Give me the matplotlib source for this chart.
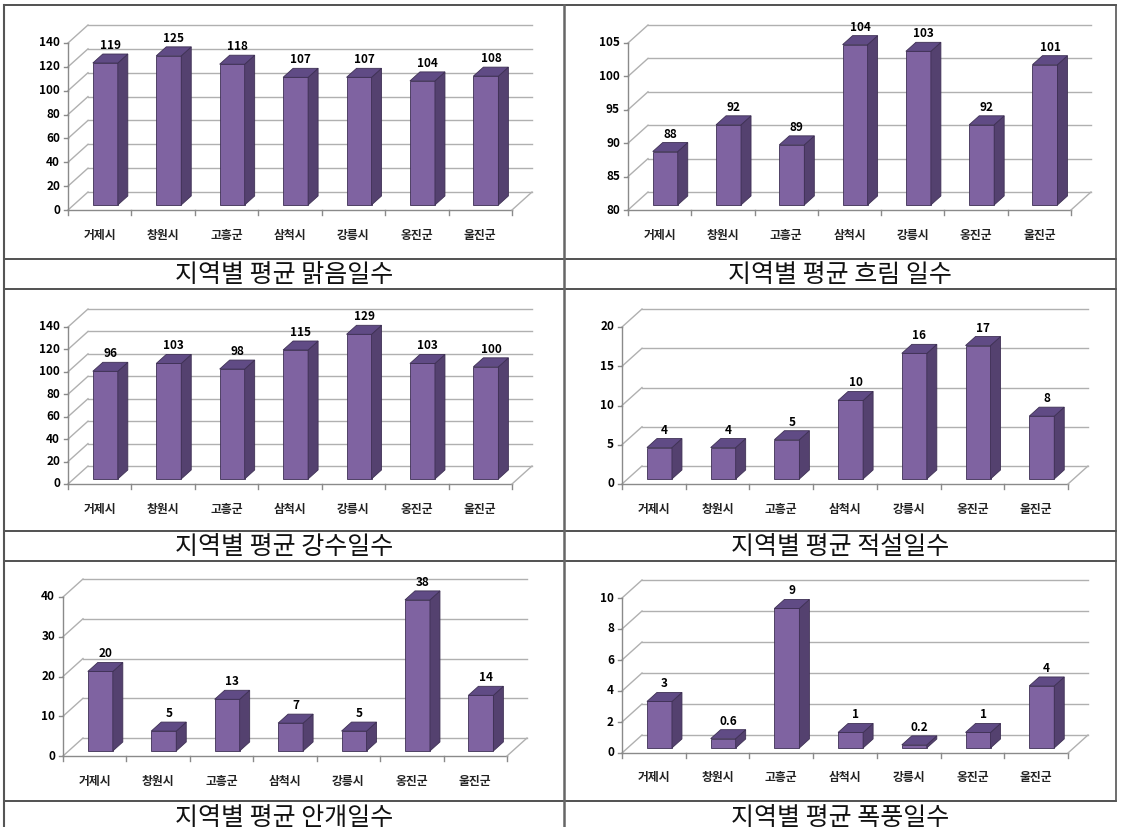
import numpy as np
import matplotlib.pyplot as plt
from matplotlib.patches import Polygon

W, H = 1121, 827
plt.rcParams['font.family'] = ['Noto Sans CJK KR', 'DejaVu Sans']

regions = ['거제시', '창원시', '고흥군', '삼척시', '강릉시', '옹진군', '울진군']

clear_days = [119, 125, 118, 107, 107, 104, 108]
cloudy_days = [88, 92, 89, 104, 103, 92, 101]
rain_days = [96, 103, 98, 115, 129, 103, 100]
snow_days = [4, 4, 5, 10, 16, 17, 8]
fog_days = [20, 5, 13, 7, 5, 38, 14]
storm_days = [3, 0.6, 9, 1, 0.2, 1, 4]

captions = ['지역별 평균 맑음일수', '지역별 평균 흐림 일수',
            '지역별 평균 강수일수', '지역별 평균 적설일수',
            '지역별 평균 안개일수', '지역별 평균 폭풍일수']

FRONT = '#7f63a1'
SIDE = '#54416f'
TOP = '#604b85'
EDGE = '#3e3054'
GRID = '#b0b0b0'
AXIS = '#8a8a8a'
DEPTH_X, DEPTH_Y = 20, 18      # pixel shift of the back wall
F0, F1 = 0.28, 0.78            # bar depth inside the box
BAR_W = 25                     # bar front width in pixels

fig = plt.figure(figsize=(W / 100, H / 100), dpi=100)

# table frame
bg = fig.add_axes([0, 0, 1, 1])
bg.set_xlim(0, W)
bg.set_ylim(H, 0)
bg.axis('off')
for y in [5, 259, 289, 531, 561, 801]:
    bg.plot([4, 1116], [y, y], color='#333333', lw=1.2)
bg.plot([4, 4], [5, H], color='#555555', lw=1.5)
bg.plot([564, 564], [5, H], color='#666666', lw=1.8)
bg.plot([1116, 1116], [5, 801], color='#555555', lw=1.2)

cap_pos = [(284, 275), (840, 275), (284, 547), (840, 547), (284, 818), (840, 818)]
for (cx, cy), txt in zip(cap_pos, captions):
    bg.text(cx, cy, txt, ha='center', va='center', fontsize=18,
            fontweight='light', color='#111111')


def bar_panel(left, right, base, top, vals, lo, hi, step):
    n = len(vals)
    ax = fig.add_axes([left / W, 1 - base / H, (right - left) / W, (base - top) / H])
    ax.set_xlim(0, n)
    ax.set_ylim(lo, hi)
    ax.axis('off')
    sx = (right - left) / n
    sy = (base - top) / (hi - lo)
    ddx, ddy = DEPTH_X / sx, DEPTH_Y / sy

    for v in np.arange(lo, hi + step / 2, step):
        ax.plot([ddx, n + ddx], [v + ddy, v + ddy], color=GRID, lw=1, clip_on=False)
        ax.plot([0, ddx], [v, v + ddy], color=GRID, lw=1, clip_on=False)
        ax.plot([-4 / sx, 0], [v, v], color=AXIS, lw=1, clip_on=False)
        ax.text(-8 / sx, v, f'{v:g}', ha='right', va='center',
                fontsize=8.5, fontweight='bold')
    ax.plot([0, 0], [lo, hi], color=AXIS, lw=1, clip_on=False)
    ax.plot([0, n], [lo, lo], color=AXIS, lw=1, clip_on=False)
    for i in range(n + 1):
        ax.plot([i, i], [lo, lo - 5 / sy], color=AXIS, lw=1, clip_on=False)
    ax.plot([n, n + ddx], [lo, lo + ddy], color=GRID, lw=1, clip_on=False)

    w = BAR_W / sx
    d = (F1 - F0) * ddx
    e = (F1 - F0) * ddy
    for i, v in enumerate(vals):
        xl = i + 0.5 - w / 2 + F0 * ddx
        xr = xl + w
        yb = lo + F0 * ddy
        yt = v + F0 * ddy
        ax.add_patch(Polygon([(xl, yb), (xr, yb), (xr, yt), (xl, yt)],
                             fc=FRONT, ec=EDGE, lw=0.6, clip_on=False, zorder=3))
        ax.add_patch(Polygon([(xr, yb), (xr + d, yb + e), (xr + d, yt + e), (xr, yt)],
                             fc=SIDE, ec=EDGE, lw=0.6, clip_on=False, zorder=3))
        ax.add_patch(Polygon([(xl, yt), (xr, yt), (xr + d, yt + e), (xl + d, yt + e)],
                             fc=TOP, ec=EDGE, lw=0.6, clip_on=False, zorder=3))
        ax.text(i + 0.5 + (F0 + F1) / 2 * ddx, yt + e + 2 / sy, f'{v:g}',
                ha='center', va='bottom', fontsize=8.5, fontweight='bold', zorder=4)
        ax.text(i + 0.5, lo - 25 / sy, regions[i], ha='center', va='center',
                fontsize=8.5, fontweight='bold', color='#222222')


bar_panel(68, 512, 210, 43, clear_days, 0, 140, 20)
bar_panel(628, 1071, 210, 43, cloudy_days, 80, 105, 5)
bar_panel(68, 512, 484, 327, rain_days, 0, 140, 20)
bar_panel(622, 1068, 484, 327, snow_days, 0, 20, 5)
bar_panel(63, 507, 756, 597, fog_days, 0, 40, 10)
bar_panel(622, 1068, 753, 598, storm_days, 0, 10, 2)

fig.savefig('out.png', dpi=100)
